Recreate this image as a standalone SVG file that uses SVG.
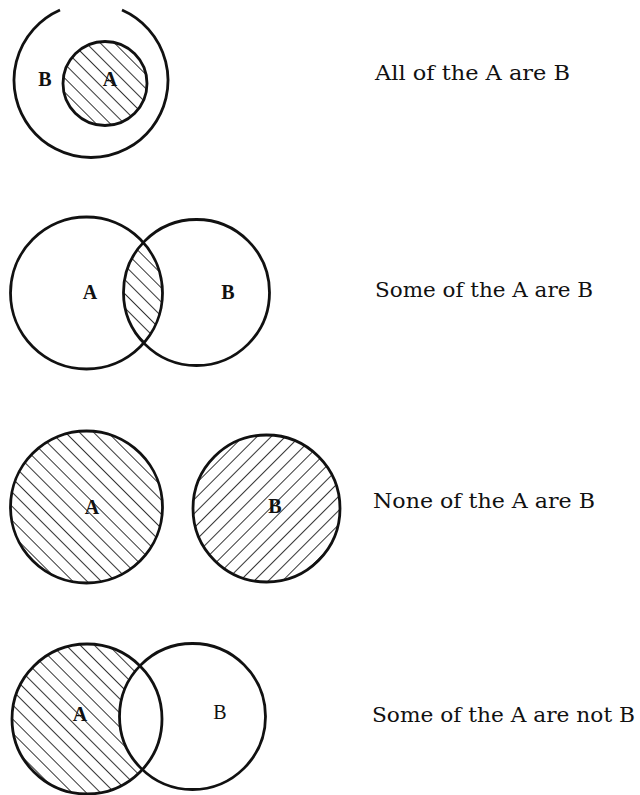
<svg xmlns="http://www.w3.org/2000/svg" width="640" height="795" viewBox="0 0 640 795">
<style>
.c{fill:none;stroke:#111;stroke-width:2.8}
.w{fill:#fff;stroke:#111;stroke-width:2.8}
.lbl{font-family:"Liberation Serif",serif;font-weight:bold;font-size:20px;fill:#111}
.lr{font-family:"Liberation Serif",serif;font-size:20px;fill:#111}
.cap{font-family:"DejaVu Serif","Liberation Serif",serif;font-size:20px;fill:#111}
</style>
<defs>
<pattern id="hb" patternUnits="userSpaceOnUse" width="10" height="10" patternTransform="rotate(-45)">
<line x1="0" y1="0" x2="0" y2="10" stroke="#111" stroke-width="1.7"/>
</pattern>
<pattern id="hf" patternUnits="userSpaceOnUse" width="10" height="10" patternTransform="rotate(45)">
<line x1="0" y1="0" x2="0" y2="10" stroke="#111" stroke-width="1.7"/>
</pattern>
<clipPath id="clipB2"><circle cx="196.5" cy="292.5" r="73"/></clipPath>
</defs>
<rect width="640" height="795" fill="#fff"/>

<g id="row1">
<path class="c" d="M 60 10 A 77 77 0 1 0 122 10"/>
<circle cx="105" cy="83.5" r="42" fill="url(#hb)" stroke="#111" stroke-width="2.8"/>
<text class="lbl" x="45" y="86" text-anchor="middle">B</text>
<text class="lbl" x="110" y="86" text-anchor="middle">A</text>
<text class="cap" x="375" y="80" textLength="195" lengthAdjust="spacingAndGlyphs">All of the A are B</text>
</g>

<g id="row2">
<circle cx="86.5" cy="293" r="76" fill="url(#hb)" clip-path="url(#clipB2)"/>
<circle class="c" cx="86.5" cy="293" r="76"/>
<circle class="c" cx="196.5" cy="292.5" r="73"/>
<text class="lbl" x="90" y="299" text-anchor="middle">A</text>
<text class="lbl" x="228" y="299" text-anchor="middle">B</text>
<text class="cap" x="375" y="297" textLength="218" lengthAdjust="spacingAndGlyphs">Some of the A are B</text>
</g>

<g id="row3">
<circle cx="86.5" cy="507" r="76" fill="url(#hb)" stroke="#111" stroke-width="2.8"/>
<circle cx="266.5" cy="508.5" r="73.5" fill="url(#hf)" stroke="#111" stroke-width="2.8"/>
<text class="lbl" x="92" y="514" text-anchor="middle">A</text>
<text class="lbl" x="275" y="513" text-anchor="middle">B</text>
<text class="cap" x="373" y="508" textLength="222" lengthAdjust="spacingAndGlyphs">None of the A are B</text>
</g>

<g id="row4">
<circle cx="87" cy="719" r="75" fill="url(#hb)"/>
<circle class="w" cx="192.5" cy="716.5" r="73"/>
<circle class="c" cx="87" cy="719" r="75"/>
<text class="lbl" x="80" y="721" text-anchor="middle">A</text>
<text class="lr" x="220" y="719" text-anchor="middle">B</text>
<text class="cap" x="372" y="722" textLength="263" lengthAdjust="spacingAndGlyphs">Some of the A are not B</text>
</g>
</svg>
